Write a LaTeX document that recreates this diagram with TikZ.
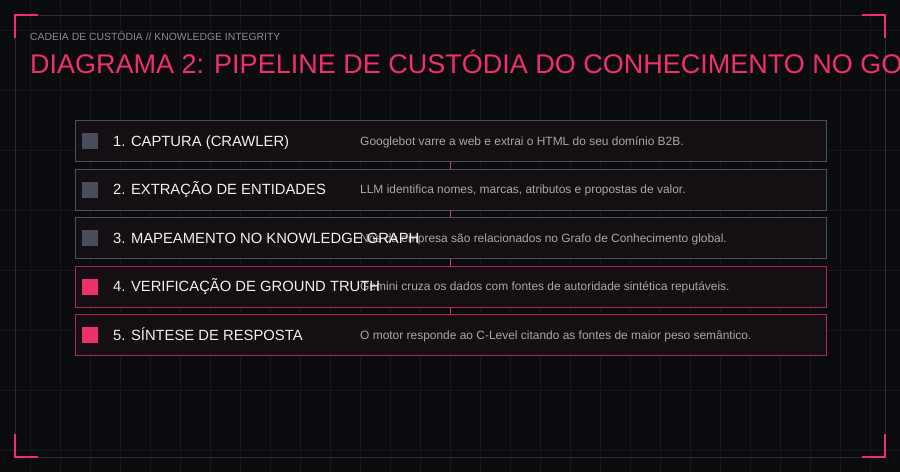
\documentclass[tikz,border=0pt]{standalone}
\usepackage{fontspec}
\setmainfont{Liberation Sans}
\definecolor{bgcol}{HTML}{0A0B0E}
\definecolor{gridcol}{HTML}{16181D}
\definecolor{framecol}{HTML}{2B2C35}
\definecolor{hotpink}{HTML}{F0306A}
\definecolor{boxfill}{HTML}{130F12}
\definecolor{greyline}{HTML}{4E4F57}
\definecolor{pinkline}{HTML}{A8294F}
\definecolor{greysq}{HTML}{4A4B5C}
\definecolor{desccol}{HTML}{A8A8A8}
\definecolor{subcol}{HTML}{8C8C8C}
\begin{document}
\begin{tikzpicture}[x=1pt,y=-1pt]

\tikzset{
stage/.style={rectangle,draw=greyline,fill=boxfill,line width=0.9pt,minimum width=751pt,minimum height=41pt,inner sep=0pt},
hot/.style={draw=pinkline},
marker/.style={rectangle,fill=greysq,minimum size=16pt,inner sep=0pt},
label/.style={anchor=base west,inner sep=0pt,text=white!94!black,font={\fontsize{14.8pt}{18}\selectfont}},
desc/.style={anchor=base west,inner sep=0pt,text=desccol,font={\fontsize{11.95pt}{14}\selectfont}},
link/.style={draw=hotpink,line width=0.8pt},
corner/.style={draw=hotpink,line width=2pt}
}

% background and grid
\useasboundingbox (0,0) rectangle (900,472);
\fill[bgcol] (0,0) rectangle (900,472);
\foreach \x in {30,60,...,870} \draw[gridcol,line width=0.8pt] (\x,0) -- (\x,472);
\foreach \y in {30,90,...,450} \draw[gridcol,line width=0.8pt] (0,\y) -- (900,\y);

% frame
\draw[framecol,line width=0.9pt] (15,15) rectangle (885,457);
\draw[corner] (15,38) -- (15,15) -- (38,15);
\draw[corner] (862,15) -- (885,15) -- (885,38);
\draw[corner] (15,434) -- (15,457) -- (38,457);
\draw[corner] (862,457) -- (885,457) -- (885,434);

% heading
\node[anchor=base west,inner sep=0pt,text=subcol,font={\fontsize{10.4pt}{12}\selectfont}] (sub) at (30,40) {CADEIA DE CUSTÓDIA // KNOWLEDGE INTEGRITY};
\node[anchor=base west,inner sep=0pt,text=hotpink,font={\fontsize{27pt}{32}\selectfont}] (title) at (30,73) {DIAGRAMA 2: PIPELINE DE CUSTÓDIA DO CONHECIMENTO NO GO};

% stages
\node[stage] (1) at (450.5,141) {};
\node[stage] (2) at (450.5,189.5) {};
\node[stage] (3) at (450.5,238) {};
\node[stage,hot] (4) at (450.5,286.5) {};
\node[stage,hot] (5) at (450.5,335) {};

% links
\path[link]
(1) edge (2)
(2) edge (3)
(3) edge (4)
(4) edge (5)
;

% markers
\node[marker] (q1) at (90,141) {};
\node[marker] (q2) at (90,189.5) {};
\node[marker] (q3) at (90,238) {};
\node[marker,fill=hotpink] (q4) at (90,286.5) {};
\node[marker,fill=hotpink] (q5) at (90,335) {};

% descriptions
\node[desc] (d1) at (360,145.3) {Googlebot varre a web e extrai o HTML do seu domínio B2B.};
\node[desc] (d2) at (360,193.8) {LLM identifica nomes, marcas, atributos e propostas de valor.};
\node[desc] (d3) at (360,242.3) {Nós da empresa são relacionados no Grafo de Conhecimento global.};
\node[desc] (d4) at (360,290.8) {Gemini cruza os dados com fontes de autoridade sintética reputáveis.};
\node[desc] (d5) at (360,339.3) {O motor responde ao C-Level citando as fontes de maior peso semântico.};

% labels
\node[label] (l1) at (113,146.4) {1. CAPTURA (CRAWLER)};
\node[label] (l2) at (113,194.9) {2. EXTRAÇÃO DE ENTIDADES};
\node[label] (l3) at (113,243.4) {3. MAPEAMENTO NO KNOWLEDGE GRAPH};
\node[label] (l4) at (113,291.9) {4. VERIFICAÇÃO DE GROUND TRUTH};
\node[label] (l5) at (113,340.4) {5. SÍNTESE DE RESPOSTA};

\end{tikzpicture}
\end{document}
